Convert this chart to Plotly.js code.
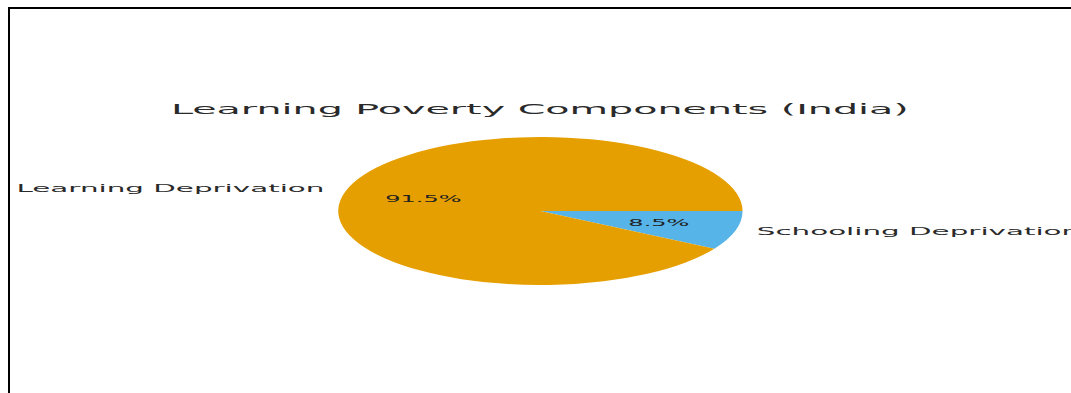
<!DOCTYPE html>
<html><head><meta charset="utf-8">
<script src="https://cdn.plot.ly/plotly-3.0.1.min.js"></script>
<style>
html,body{margin:0;padding:0;background:#fff;overflow:hidden;width:1071px;height:393px}
#wrap{position:absolute;left:0;top:0;width:1071px;height:393px;overflow:hidden;background:#fff}
#chart{position:absolute;left:0;top:0;width:392px;height:393px;transform-origin:0 0;transform:scaleX(2.732)}
#frame{position:absolute;left:8px;top:7px;right:-10px;bottom:-10px;border-top:2px solid #000;border-left:2px solid #000}
</style></head><body>
<div id="wrap"><div id="chart"></div><div id="frame"></div></div>
<script>
// ---- data ----
const categories = ["Learning Deprivation", "Schooling Deprivation"];
const shares = [91.5, 8.5];
const sliceColors = ["#E69F00", "#56B4E9"];
const chartTitle = "Learning Poverty Components (India)";

// ---- geometry (unscaled plot space) ----
const W = 392, H = 393;
const R = 74;                 // pie radius px
const CX = 197.8, CY = 211;   // pie centre px (from top-left)
const FONT = "DejaVu Sans, Verdana, sans-serif";

const dom = {
  x: [(CX - R) / W, (CX + R) / W],
  y: [(H - CY - R) / H, (H - CY + R) / H]
};

// matplotlib order: first slice starts at 3 o'clock going counter-clockwise.
// Equivalent in Plotly: clockwise from 3 o'clock with the order reversed.
const revLabels = categories.slice().reverse();
const revValues = shares.slice().reverse();
const revColors = sliceColors.slice().reverse();

const trace = {
  type: "pie",
  labels: revLabels,
  values: revValues,
  marker: {colors: revColors, line: {width: 0}},
  sort: false,
  direction: "clockwise",
  rotation: 90,
  textinfo: "none",
  hoverinfo: "none",
  showlegend: false,
  domain: dom
};

// labels computed from the data (angles of each slice)
const total = shares.reduce((a, b) => a + b, 0);
const annotations = [];
let cum = 0;
shares.forEach((v, i) => {
  const mid = (cum + v / 2) / total * 2 * Math.PI;
  cum += v;
  const c = Math.cos(mid), s = Math.sin(mid);
  // percentage inside (pctdistance 0.6)
  annotations.push({
    xref: "paper", yref: "paper",
    x: (CX + 0.6 * R * c) / W, y: (H - CY + 0.6 * R * s) / H,
    xanchor: "center", yanchor: "middle",
    text: (v / total * 100).toFixed(1) + "%",
    showarrow: false,
    font: {family: FONT, size: 8.8, color: "#222"}
  });
  // category label (labeldistance ~1.1)
  annotations.push({
    xref: "paper", yref: "paper",
    x: (CX + 1.075 * R * c) / W, y: (H - CY + 1.1 * R * s + 0.8) / H,
    xanchor: c < 0 ? "right" : "left", yanchor: "middle",
    text: categories[i],
    showarrow: false,
    font: {family: FONT, size: 10.75, color: "#2a2a2a"}
  });
});

const layout = {
  width: W, height: H,
  margin: {l: 0, r: 0, t: 0, b: 0},
  paper_bgcolor: "rgba(0,0,0,0)",
  plot_bgcolor: "rgba(0,0,0,0)",
  title: {
    text: chartTitle,
    x: 197.6 / W, xanchor: "center",
    y: 1 - 108.5 / H, yanchor: "middle", yref: "container",
    font: {family: FONT, size: 14.5, color: "#2a2a2a"}
  },
  annotations: annotations
};

Plotly.newPlot("chart", [trace], layout, {staticPlot: true, displayModeBar: false});
</script>
</body></html>
